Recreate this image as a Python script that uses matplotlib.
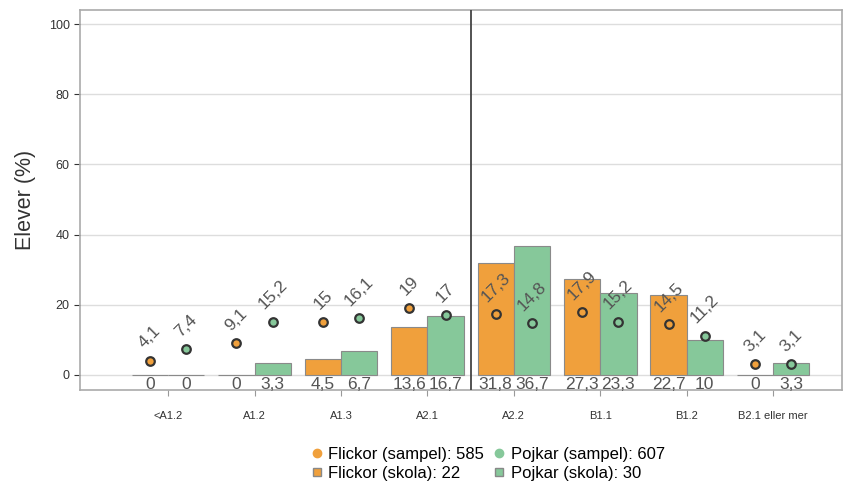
import numpy as np
import matplotlib
matplotlib.use('Agg')
import matplotlib.pyplot as plt
from matplotlib.lines import Line2D

plt.rcParams['font.family'] = ['Liberation Sans', 'DejaVu Sans']

# data
levels = ['<A1.2', 'A1.2', 'A1.3', 'A2.1', 'A2.2', 'B1.1', 'B1.2', 'B2.1 eller mer']
girls_school = [0, 0, 4.5, 13.6, 31.8, 27.3, 22.7, 0]
boys_school = [0, 3.3, 6.7, 16.7, 36.7, 23.3, 10, 3.3]
girls_sample = [4.1, 9.1, 15, 19, 17.3, 17.9, 14.5, 3.1]
boys_sample = [7.4, 15.2, 16.1, 17, 14.8, 15.2, 11.2, 3.1]
legend_labels = ['Flickor (sampel): 585', 'Flickor (skola): 22',
                 'Pojkar (sampel): 607', 'Pojkar (skola): 30']

orange = '#F0A03C'
green = '#86C89A'
txt_gray = '#555555'


def fmt(v):
    s = ('%g' % v).replace('.', ',')
    return s


fig = plt.figure(figsize=(8.45, 5), dpi=100)
ax = fig.add_axes([0.0947, 0.22, 0.902, 0.76])

x = np.arange(len(levels))
w = 0.42

ax.bar(x - w / 2, girls_school, width=w, color=orange, edgecolor='#8a8a8a', linewidth=0.8, zorder=2)
ax.bar(x + w / 2, boys_school, width=w, color=green, edgecolor='#8a8a8a', linewidth=0.8, zorder=2)

ax.scatter(x - w / 2, girls_sample, s=38, color=orange, edgecolor='#333333', linewidth=1.6, zorder=3)
ax.scatter(x + w / 2, boys_sample, s=38, color=green, edgecolor='#333333', linewidth=1.6, zorder=3)

# value labels under the bars, rotated labels above the sample points
for i in range(len(levels)):
    ax.text(x[i] - w / 2, -0.6, fmt(girls_school[i]), ha='center', va='top', fontsize=12.5, color=txt_gray)
    ax.text(x[i] + w / 2, -0.6, fmt(boys_school[i]), ha='center', va='top', fontsize=12.5, color=txt_gray)
    ax.annotate(fmt(girls_sample[i]), (x[i] - w / 2, girls_sample[i]), xytext=(0, 7),
                textcoords='offset points', ha='center', va='bottom', rotation=45,
                fontsize=12.5, color=txt_gray)
    ax.annotate(fmt(boys_sample[i]), (x[i] + w / 2, boys_sample[i]), xytext=(0, 7),
                textcoords='offset points', ha='center', va='bottom', rotation=45,
                fontsize=12.5, color=txt_gray)

ax.axvline(3.5, color='#444444', linewidth=1.3, zorder=4)

ax.set_xlim(-1.02, 7.8)
ax.set_ylim(-4.3, 104)
ax.set_yticks([0, 20, 40, 60, 80, 100])
ax.set_xticks(x)
ax.set_xticklabels(levels, fontsize=8, color='#333333')
ax.tick_params(axis='x', length=4, color='#999999', pad=11)
ax.tick_params(axis='y', labelsize=9, colors='#333333', length=4)
ax.grid(axis='y', color='#dddddd', linewidth=1, zorder=0)
ax.set_axisbelow(True)
for sp in ax.spines.values():
    sp.set_color('#aaaaaa')
    sp.set_linewidth(1.2)
ax.set_ylabel('Elever (%)', fontsize=15.5, color='#333333', labelpad=9)

handles = [
    Line2D([], [], marker='o', color='none', markerfacecolor=orange, markeredgecolor=orange, markersize=6),
    Line2D([], [], marker='s', color='none', markerfacecolor=orange, markeredgecolor='#888888', markersize=6),
    Line2D([], [], marker='o', color='none', markerfacecolor=green, markeredgecolor=green, markersize=6),
    Line2D([], [], marker='s', color='none', markerfacecolor=green, markeredgecolor='#888888', markersize=6),
]
fig.legend(handles, legend_labels, loc='center', bbox_to_anchor=(0.576, 0.072), ncol=2,
           frameon=False, fontsize=12, handletextpad=0.2, columnspacing=0.4,
           labelspacing=0.25, handlelength=1.0)

fig.savefig('out.png', dpi=100)
